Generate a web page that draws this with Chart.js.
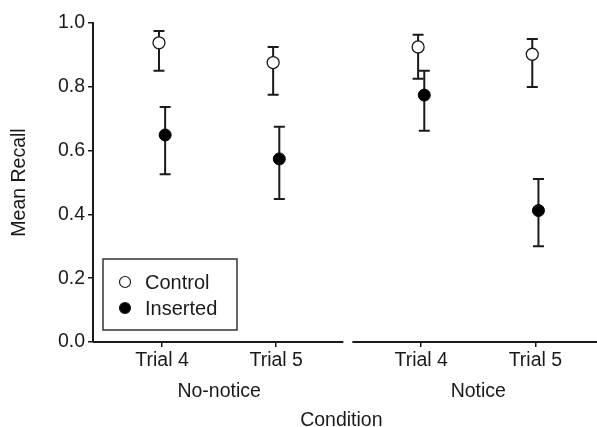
<!DOCTYPE html>
<html>
<head>
<meta charset="utf-8">
<script src="https://cdn.jsdelivr.net/npm/chart.js@4"></script>
<style>
  html, body { margin: 0; padding: 0; background: #fff; }
  #wrap { width: 597px; height: 427px; }
</style>
</head>
<body>
<div id="wrap"><canvas id="recallChart" width="597" height="427"></canvas></div>
<script>
// data
const trials = ["Trial 4", "Trial 5", "Trial 4", "Trial 5"];
const trialPos = [0, 1, 2.27, 3.27];
const groups = ["No-notice", "Notice"];
const groupPos = [0.5, 2.77];
const yTicks = [0, 0.2, 0.4, 0.6, 0.8, 1.0];

const controlMean = [0.938, 0.876, 0.925, 0.902];
const controlLo   = [0.850, 0.775, 0.825, 0.799];
const controlHi   = [0.975, 0.925, 0.963, 0.950];

const insertedMean = [0.649, 0.574, 0.774, 0.412];
const insertedLo   = [0.526, 0.448, 0.662, 0.300];
const insertedHi   = [0.737, 0.675, 0.850, 0.511];

const dodge = 0.027;
const xMin = -0.605, xMax = 3.746;
const segments = [[xMin, 1.588], [1.667, null]]; // null = run to the canvas edge
const FONT = "'Liberation Sans', Arial, sans-serif";
const FS = 19.5;
const INK = "#1a1a1a";

function pts(means, off) {
  return means.map((m, i) => ({ x: trialPos[i] + off, y: m }));
}

const errorBars = {
  id: "errorBars",
  beforeDatasetsDraw(chart) {
    const { ctx, scales: { x, y } } = chart;
    const sets = [[controlLo, controlHi, -dodge], [insertedLo, insertedHi, dodge]];
    ctx.save();
    ctx.strokeStyle = INK;
    ctx.lineWidth = 2;
    sets.forEach(([lo, hi, off]) => {
      lo.forEach((l, i) => {
        const px = x.getPixelForValue(trialPos[i] + off);
        const y1 = y.getPixelForValue(l), y2 = y.getPixelForValue(hi[i]);
        ctx.beginPath();
        ctx.moveTo(px, y1); ctx.lineTo(px, y2);
        ctx.moveTo(px - 5.5, y1); ctx.lineTo(px + 5.5, y1);
        ctx.moveTo(px - 5.5, y2); ctx.lineTo(px + 5.5, y2);
        ctx.stroke();
      });
    });
    ctx.restore();
  }
};

const brokenAxis = {
  id: "brokenAxis",
  afterDraw(chart) {
    const { ctx, scales: { x, y } } = chart;
    const py = y.getPixelForValue(0);
    ctx.save();
    ctx.strokeStyle = INK;
    ctx.lineWidth = 2;
    segments.forEach(([a, b]) => {
      ctx.beginPath();
      ctx.moveTo(x.getPixelForValue(a), py);
      ctx.lineTo(b === null ? chart.width : x.getPixelForValue(b), py);
      ctx.stroke();
    });
    ctx.restore();
  }
};

const boxLegend = {
  id: "boxLegend",
  afterDraw(chart) {
    const { ctx, chartArea, scales: { y } } = chart;
    const left = chartArea.left + 10;
    const bottom = y.getPixelForValue(0) - 12;
    const top = bottom - 71;
    ctx.save();
    ctx.strokeStyle = "#333";
    ctx.lineWidth = 1.5;
    ctx.strokeRect(left, top, 134, 71);
    ctx.font = "20px " + FONT;
    ctx.textBaseline = "middle";
    chart.data.datasets.forEach((ds, i) => {
      const cy = top + 23 + i * 26;
      ctx.beginPath();
      ctx.arc(left + 22, cy, 5.5, 0, Math.PI * 2);
      ctx.fillStyle = ds.backgroundColor;
      ctx.fill();
      ctx.lineWidth = 1.2;
      ctx.strokeStyle = INK;
      ctx.stroke();
      ctx.fillStyle = INK;
      ctx.fillText(ds.label, left + 42, cy + 1);
    });
    ctx.restore();
  }
};

new Chart(document.getElementById("recallChart"), {
  type: "scatter",
  data: {
    datasets: [
      {
        label: "Control",
        data: pts(controlMean, -dodge),
        backgroundColor: "#ffffff",
        borderColor: INK,
        borderWidth: 1.3,
        pointRadius: 6,
        clip: false
      },
      {
        label: "Inserted",
        data: pts(insertedMean, dodge),
        backgroundColor: "#000000",
        borderColor: "#000000",
        borderWidth: 1,
        pointRadius: 6,
        clip: false
      }
    ]
  },
  options: {
    responsive: false,
    animation: false,
    layout: { padding: { top: 23, right: 0, left: 0, bottom: 0 } },
    plugins: { legend: { display: false }, tooltip: { enabled: false } },
    scales: {
      x: {
        type: "linear",
        position: "bottom",
        min: xMin, max: xMax,
        weight: 0,
        border: { display: false },
        grid: { drawOnChartArea: false, drawTicks: true, tickLength: 5, color: INK, lineWidth: 1.5 },
        afterBuildTicks: (s) => { s.ticks = trialPos.map(v => ({ value: v })); },
        afterFit: (s) => { s.height = 30; },
        ticks: {
          autoSkip: false, maxRotation: 0, padding: 2,
          color: INK, font: { family: FONT, size: FS },
          callback: (v, i) => trials[i]
        }
      },
      x2: {
        type: "linear",
        position: "bottom",
        min: xMin, max: xMax,
        weight: 1,
        border: { display: false },
        grid: { display: false },
        afterBuildTicks: (s) => { s.ticks = groupPos.map(v => ({ value: v })); },
        afterFit: (s) => { s.height = 55; },
        ticks: {
          autoSkip: false, maxRotation: 0, padding: 0,
          color: INK, font: { family: FONT, size: FS },
          callback: (v, i) => groups[i]
        },
        title: {
          display: true, text: "Condition", color: INK,
          font: { family: FONT, size: FS }, padding: { top: 0, bottom: -5 }
        }
      },
      y: {
        min: 0, max: 1,
        border: { display: true, color: INK, width: 2 },
        grid: { drawOnChartArea: false, drawTicks: true, tickLength: 5, color: INK, lineWidth: 1.5 },
        afterBuildTicks: (s) => { s.ticks = yTicks.map(v => ({ value: v })); },
        afterFit: (s) => { s.width = 93; },
        ticks: {
          padding: 3, color: INK, font: { family: FONT, size: FS },
          callback: (v) => Number(v).toFixed(1)
        },
        title: {
          display: true, text: "Mean Recall", color: INK,
          font: { family: FONT, size: FS }, padding: { top: 8, bottom: 0 }
        }
      }
    }
  },
  plugins: [errorBars, brokenAxis, boxLegend]
});
</script>
</body>
</html>
